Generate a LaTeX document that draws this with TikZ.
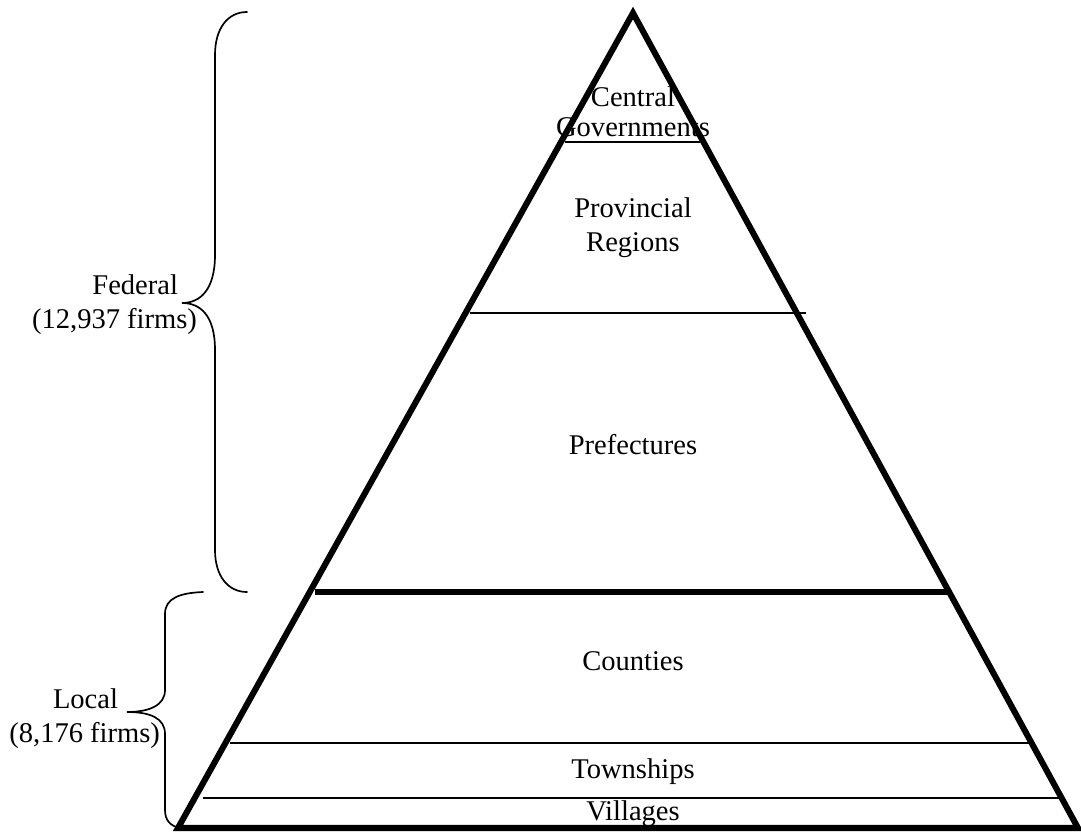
\documentclass[tikz,border=0pt]{standalone}
\usepackage{fontspec}
\setmainfont{Liberation Serif}
\usetikzlibrary{positioning}

\begin{document}
\begin{tikzpicture}[x=0.025cm,y=-0.025cm,font=\fontsize{20.3}{24}\selectfont,
	layer_txt/.style={inner sep=0pt,outer sep=0pt,anchor=base},
	side_txt/.style={inner sep=0pt,outer sep=0pt,anchor=base east},
	thin_ln/.style={line width=1.3pt},
	thick_ln/.style={line width=4.3pt,line join=miter},
	brace_ln/.style={line width=1.2pt,line cap=round}]
	\useasboundingbox (0,0) rectangle (1081,833);

	% pyramid outline
	\coordinate (apex) at (633,13);
	\coordinate (base_l) at (178,828);
	\coordinate (base_r) at (1078,828);
	\draw [thick_ln] (apex) -- (base_l) -- (base_r) -- cycle;

	% layer boundaries
	\coordinate (cen_l) at (565,142);   \coordinate (cen_r) at (700,142);
	\coordinate (prov_l) at (470,313);  \coordinate (prov_r) at (806,313);
	\coordinate (pref_l) at (315,592);  \coordinate (pref_r) at (950,592);
	\coordinate (cnty_l) at (230,743);  \coordinate (cnty_r) at (1034,743);
	\coordinate (twn_l) at (203,798);   \coordinate (twn_r) at (1063,798);
	\draw [thin_ln] (cen_l) -- (cen_r);
	\draw [thin_ln] (prov_l) -- (prov_r);
	\draw [thick_ln] (pref_l) -- (pref_r);
	\draw [thin_ln] (cnty_l) -- (cnty_r);
	\draw [thin_ln] (twn_l) -- (twn_r);

	% layer names
	\node [layer_txt] at (633,107) (central_txt) {Central};
	\node [layer_txt] at (633,137) (govts_txt) {Governments};
	\node [layer_txt] at (633,218) (prov_txt) {Provincial};
	\node [layer_txt] at (633,252) (regions_txt) {Regions};
	\node [layer_txt] at (633,455) (pref_txt) {Prefectures};
	\node [layer_txt] at (633,670) (counties_txt) {Counties};
	\node [layer_txt] at (633,778) (townships_txt) {Townships};
	\node [layer_txt] at (633,820) (villages_txt) {Villages};

	% federal brace
	\coordinate (fed_top) at (247,12);
	\coordinate (fed_tip) at (182,303);
	\coordinate (fed_bot) at (247,592);
	\draw [brace_ln] (fed_top) .. controls (228,12) and (215,28) .. (215,55)
		-- (215,255) .. controls (215,290) and (200,303) .. (fed_tip)
		.. controls (200,303) and (215,315) .. (215,350)
		-- (215,550) .. controls (215,576) and (228,592) .. (fed_bot);
	\node [side_txt] at (178,295) (fed_txt) {Federal};
	\node [side_txt] at (197,329) (fed_firms_txt) {(12,937 firms)};

	% local brace
	\coordinate (loc_top) at (203,592);
	\coordinate (loc_tip) at (127,712);
	\coordinate (loc_bot) at (180,828);
	\draw [brace_ln] (loc_top) .. controls (180,593) and (165,598) .. (165,614)
		-- (165,690) .. controls (165,705) and (150,712) .. (loc_tip)
		.. controls (150,712) and (165,718) .. (165,734)
		-- (165,810) .. controls (165,820) and (170,826) .. (loc_bot);
	\node [side_txt] at (118,708) (loc_txt) {Local};
	\node [side_txt] at (160,742) (loc_firms_txt) {(8,176 firms)};
\end{tikzpicture}
\end{document}
